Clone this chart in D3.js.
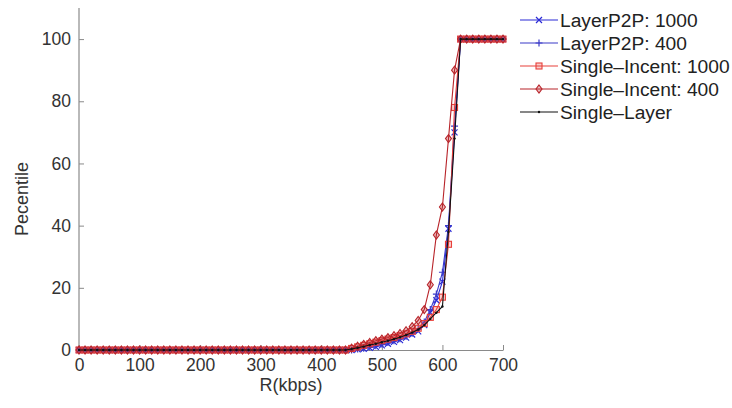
<!DOCTYPE html>
<html>
<head>
<meta charset="utf-8">
<script src="https://cdn.jsdelivr.net/npm/d3@7"></script>
<style>
  body { margin: 0; background: #fff; overflow: hidden; }
  svg { font-family: "Liberation Sans", Arial, sans-serif; }
</style>
</head>
<body>
<svg width="732" height="408"></svg>
<script>
// R (kbps), one sample every 10
const rates = [0,10,20,30,40,50,60,70,80,90,100,110,120,130,140,150,160,170,180,190,
  200,210,220,230,240,250,260,270,280,290,300,310,320,330,340,350,360,370,380,390,
  400,410,420,430,440,450,460,470,480,490,500,510,520,530,540,550,560,570,580,590,
  600,610,620,630,640,650,660,670,680,690,700];

const zeros45 = [0,0,0,0,0,0,0,0,0,0,0,0,0,0,0,0,0,0,0,0,0,0,0,0,0,0,0,0,0,0,0,0,0,0,0,0,0,0,0,0,0,0,0,0,0];
const full8 = [100,100,100,100,100,100,100,100];

// 450 .. 620
const layerP2P1000 = zeros45.concat([0,0.2,0.4,0.7,1,1.5,2,2.6,3.2,4,5,6,8,12,16,22,39,70], full8);
const layerP2P400 = zeros45.concat([0,0.3,0.6,1,1.4,1.9,2.4,3,3.6,4.4,5.4,6.8,9,13,18,25,40,72], full8);
const singleIncent1000 = zeros45.concat([0.5,1,1.5,2,2.5,3,3.5,4,4.6,5.2,6,7,8.5,10.5,13,17,34,78], full8);
const singleIncent400 = zeros45.concat([0.6,1.2,1.8,2.4,3,3.5,4,4.6,5.3,6.2,7.5,9.5,13,21,37,46,68,90], full8);
const singleLayer = zeros45.concat([0.3,0.7,1.1,1.6,2,2.5,3,3.5,4.1,4.8,5.6,6.6,8,10,12,14,38,68], full8);

const xTicks = [0,100,200,300,400,500,600,700];
const yTicks = [0,20,40,60,80,100];

const series = [
  { name: "LayerP2P: 1000", values: layerP2P1000, color: "#2a2ad6", marker: "x" },
  { name: "LayerP2P: 400", values: layerP2P400, color: "#3a3ac8", marker: "plus" },
  { name: "Single\u2013Incent: 1000", values: singleIncent1000, color: "#e8403a", marker: "square" },
  { name: "Single\u2013Incent: 400", values: singleIncent400, color: "#b8242a", marker: "diamond" },
  { name: "Single\u2013Layer", values: singleLayer, color: "#111", marker: "dot" }
];

const svg = d3.select("svg");
const mLeft = 79, mRight = 503, mTop = 8, mBottom = 350;

const x = d3.scaleLinear().domain([0, 700]).range([mLeft, mRight]);
const y = d3.scaleLinear().domain([0, 110]).range([mBottom, mTop]);

const axisColor = "#8a8a8a";
const textColor = "#333";

// axes (ticks point inward)
const gx = svg.append("g").attr("transform", `translate(0,${mBottom})`)
  .call(d3.axisBottom(x).tickValues(xTicks).tickSizeInner(-5).tickSizeOuter(0).tickPadding(9));
const gy = svg.append("g").attr("transform", `translate(${mLeft},0)`)
  .call(d3.axisLeft(y).tickValues(yTicks).tickSizeInner(-5).tickSizeOuter(0).tickPadding(8));
[gx, gy].forEach(g => {
  g.select(".domain").attr("stroke", axisColor).attr("stroke-width", 1.2);
  g.selectAll(".tick line").attr("stroke", axisColor);
  g.selectAll(".tick text").attr("fill", textColor).attr("font-size", 17.5)
    .attr("font-family", "Liberation Sans, Arial, sans-serif");
});
gy.select(".domain").attr("d", `M0,${mBottom}V${mTop}`);

svg.append("text").attr("x", 291).attr("y", 391)
  .attr("text-anchor", "middle").attr("font-size", 18).attr("fill", textColor)
  .text("R(kbps)");
svg.append("text").attr("transform", `translate(28,${(mTop + mBottom) / 2 + 20}) rotate(-90)`)
  .attr("text-anchor", "middle").attr("font-size", 18).attr("fill", textColor)
  .text("Pecentile");

function drawMarker(g, type, color) {
  const s = 3;
  if (type === "x") {
    g.append("path").attr("d", `M${-s},${-s}L${s},${s}M${-s},${s}L${s},${-s}`)
      .attr("stroke", color).attr("stroke-width", 1.2).attr("fill", "none");
  } else if (type === "plus") {
    g.append("path").attr("d", `M${-s - 0.5},0H${s + 0.5}M0,${-s - 0.5}V${s + 0.5}`)
      .attr("stroke", color).attr("stroke-width", 1.2).attr("fill", "none");
  } else if (type === "square") {
    g.append("rect").attr("x", -s).attr("y", -s).attr("width", 2 * s).attr("height", 2 * s)
      .attr("stroke", color).attr("stroke-width", 1.1).attr("fill", "rgba(232,64,58,0.25)");
  } else if (type === "diamond") {
    g.append("path").attr("d", `M0,${-s - 1}L${s},0L0,${s + 1}L${-s},0Z`)
      .attr("stroke", color).attr("stroke-width", 1.1).attr("fill", "rgba(184,36,42,0.3)");
  } else {
    g.append("circle").attr("r", 1.2).attr("fill", color);
  }
}

const line = d3.line().x(d => x(d[0])).y(d => y(d[1]));

series.forEach(s => {
  const pts = rates.map((r, i) => [r, s.values[i]]);
  svg.append("path").datum(pts).attr("d", line)
    .attr("fill", "none").attr("stroke", s.color).attr("stroke-width", 1.1);
  svg.append("g").selectAll("g").data(pts).join("g")
    .attr("transform", d => `translate(${x(d[0])},${y(d[1])})`)
    .each(function () { drawMarker(d3.select(this), s.marker, s.color); });
});

// legend
const legend = svg.append("g").attr("transform", "translate(520,20)");
series.forEach((s, i) => {
  const g = legend.append("g").attr("transform", `translate(0,${i * 23})`);
  g.append("line").attr("x1", 0).attr("x2", 38).attr("y1", 0).attr("y2", 0)
    .attr("stroke", s.color).attr("stroke-width", 1.1);
  drawMarker(g.append("g").attr("transform", "translate(19,0)"), s.marker, s.color);
  g.append("text").attr("x", 40).attr("y", 6.5).attr("font-size", 19.2)
    .attr("fill", "#222").text(s.name);
});
</script>
</body>
</html>
